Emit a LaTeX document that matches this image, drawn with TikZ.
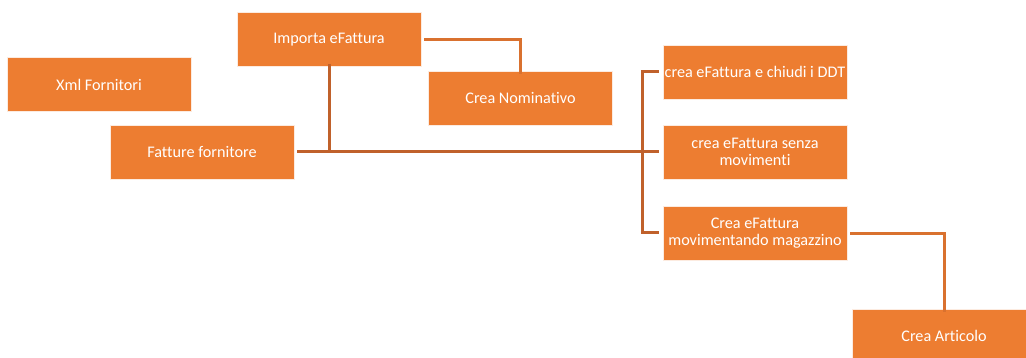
\documentclass[tikz,border=0pt]{standalone}
\usepackage{fontspec}
\setmainfont{Carlito}[Ligatures=NoCommon]
\definecolor{boxfill}{HTML}{ED7D31}
\definecolor{trunk}{HTML}{C0612B}
\definecolor{elbow}{HTML}{D9712F}
\begin{document}
\begin{tikzpicture}[x=1pt,y=-1pt,
  box/.style={draw=white!85!boxfill,line width=0.8pt,fill=boxfill,text=white,
    minimum width=184pt,minimum height=54pt,inner sep=0pt,align=center,
    font=\fontsize{16.2}{17.5}\selectfont},
  trunkline/.style={draw=trunk,line width=3pt},
  elbowline/.style={draw=elbow,line width=3pt}]
\useasboundingbox (0,0) rectangle (1026,358);
\clip (0,0) rectangle (1026,358);
\node[box] (xml) at (99,84.5) {Xml Fornitori};
\node[box] (imp) at (329,39.5) {Importa eFattura};
\node[box] (nom) at (520.5,98) {Crea Nominativo};
\node[box] (fat) at (202,152) {Fatture fornitore};
\node[box] (ddt) at (755,72) {crea eFattura e chiudi i DDT};
\node[box] (sen) at (755,152) {crea eFattura senza\\movimenti};
\node[box] (mov) at (755,233) {Crea eFattura\\movimentando magazzino};
\node[box] (art) at (944,336) {Crea Articolo};
\coordinate (j) at (642,152);
\coordinate (ja) at (329,152);
\draw[elbowline] ([xshift=3pt]imp.east) -| ([yshift=-3pt]nom.north);
\draw[trunkline] ([yshift=3pt]imp.south) -- (ja);
\draw[trunkline] ([xshift=3pt]fat.east) -- (j);
\draw[trunkline] ([xshift=-4pt]ddt.west) -| (j) |- ([xshift=-4pt]mov.west);
\draw[trunkline] (j) -- ([xshift=-4pt]sen.west);
\draw[elbowline] ([xshift=3pt,yshift=-1pt]mov.east) -| ([yshift=-3pt]art.north);
\end{tikzpicture}
\end{document}
